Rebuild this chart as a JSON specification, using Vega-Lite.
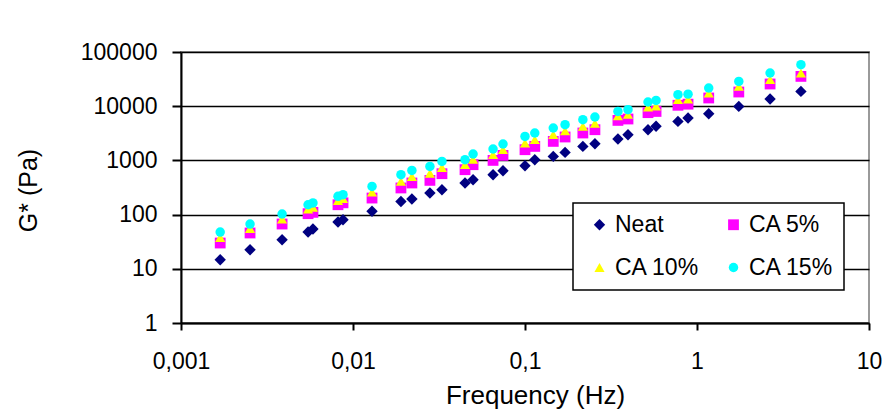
{
  "$schema": "https://vega.github.io/schema/vega-lite/v6.json",
  "width": 688,
  "height": 271,
  "autosize": "none",
  "padding": {"left": 181, "top": 52, "right": 24, "bottom": 94},
  "background": "white",
  "config": {
    "font": "Liberation Sans",
    "view": {"stroke": "#9a9a9a", "strokeWidth": 2},
    "legend": {"strokeWidth": 1.5},
    "axis": {"labelFont": "Liberation Sans", "titleFont": "Liberation Sans", "labelColor": "#000", "titleColor": "#000", "titleFontWeight": "normal", "domainColor": "#000", "domainWidth": 2, "tickColor": "#000", "tickWidth": 2, "gridColor": "#000", "gridWidth": 1.6, "gridOpacity": 1}
  },
  "data": {
    "values": [
      {"s":"Neat","f":0.00169,"g":14.7},{"s":"Neat","f":0.00252,"g":22.5},{"s":"Neat","f":0.00387,"g":34.4},{"s":"Neat","f":0.00548,"g":47.7},{"s":"Neat","f":0.00585,"g":54.2},{"s":"Neat","f":0.00818,"g":73},{"s":"Neat","f":0.00875,"g":80.5},{"s":"Neat","f":0.0129,"g":115},{"s":"Neat","f":0.019,"g":175},{"s":"Neat","f":0.022,"g":194},{"s":"Neat","f":0.028,"g":250},{"s":"Neat","f":0.0329,"g":288},{"s":"Neat","f":0.0448,"g":383},{"s":"Neat","f":0.0499,"g":440},{"s":"Neat","f":0.0652,"g":545},{"s":"Neat","f":0.0745,"g":646},{"s":"Neat","f":0.1,"g":798},{"s":"Neat","f":0.114,"g":1030},{"s":"Neat","f":0.146,"g":1185},{"s":"Neat","f":0.171,"g":1405},{"s":"Neat","f":0.217,"g":1812},{"s":"Neat","f":0.255,"g":2033},{"s":"Neat","f":0.347,"g":2483},{"s":"Neat","f":0.397,"g":2980},{"s":"Neat","f":0.519,"g":3683},{"s":"Neat","f":0.578,"g":4276},{"s":"Neat","f":0.775,"g":5244},{"s":"Neat","f":0.887,"g":6057},{"s":"Neat","f":1.17,"g":7273},{"s":"Neat","f":1.75,"g":9916},{"s":"Neat","f":2.66,"g":13580},{"s":"Neat","f":4.02,"g":18750},
      {"s":"CA 5%","f":0.00169,"g":29.9},{"s":"CA 5%","f":0.00252,"g":45.8},{"s":"CA 5%","f":0.00387,"g":67},{"s":"CA 5%","f":0.00548,"g":104},{"s":"CA 5%","f":0.00585,"g":110},{"s":"CA 5%","f":0.00818,"g":152},{"s":"CA 5%","f":0.00875,"g":165},{"s":"CA 5%","f":0.0129,"g":202},{"s":"CA 5%","f":0.019,"g":310},{"s":"CA 5%","f":0.022,"g":383},{"s":"CA 5%","f":0.028,"g":428},{"s":"CA 5%","f":0.0329,"g":568},{"s":"CA 5%","f":0.0448,"g":674},{"s":"CA 5%","f":0.0499,"g":833},{"s":"CA 5%","f":0.0652,"g":1000},{"s":"CA 5%","f":0.0745,"g":1237},{"s":"CA 5%","f":0.1,"g":1575},{"s":"CA 5%","f":0.114,"g":1812},{"s":"CA 5%","f":0.146,"g":2242},{"s":"CA 5%","f":0.171,"g":2703},{"s":"CA 5%","f":0.217,"g":3203},{"s":"CA 5%","f":0.255,"g":3683},{"s":"CA 5%","f":0.347,"g":5470},{"s":"CA 5%","f":0.397,"g":5805},{"s":"CA 5%","f":0.519,"g":7600},{"s":"CA 5%","f":0.578,"g":8000},{"s":"CA 5%","f":0.775,"g":10400},{"s":"CA 5%","f":0.887,"g":10900},{"s":"CA 5%","f":1.17,"g":14170},{"s":"CA 5%","f":1.75,"g":18270},{"s":"CA 5%","f":2.66,"g":25680},{"s":"CA 5%","f":4.02,"g":35480},
      {"s":"CA 10%","f":0.00169,"g":37.8},{"s":"CA 10%","f":0.00252,"g":55.4},{"s":"CA 10%","f":0.00387,"g":83},{"s":"CA 10%","f":0.00548,"g":126},{"s":"CA 10%","f":0.00585,"g":136},{"s":"CA 10%","f":0.00818,"g":181},{"s":"CA 10%","f":0.00875,"g":197},{"s":"CA 10%","f":0.0129,"g":259},{"s":"CA 10%","f":0.019,"g":410},{"s":"CA 10%","f":0.022,"g":500},{"s":"CA 10%","f":0.028,"g":576},{"s":"CA 10%","f":0.0329,"g":736},{"s":"CA 10%","f":0.0448,"g":833},{"s":"CA 10%","f":0.0499,"g":1043},{"s":"CA 10%","f":0.0652,"g":1274},{"s":"CA 10%","f":0.0745,"g":1575},{"s":"CA 10%","f":0.1,"g":2085},{"s":"CA 10%","f":0.114,"g":2410},{"s":"CA 10%","f":0.146,"g":2980},{"s":"CA 10%","f":0.171,"g":3500},{"s":"CA 10%","f":0.217,"g":4240},{"s":"CA 10%","f":0.255,"g":4816},{"s":"CA 10%","f":0.347,"g":6622},{"s":"CA 10%","f":0.397,"g":7060},{"s":"CA 10%","f":0.519,"g":9583},{"s":"CA 10%","f":0.578,"g":10000},{"s":"CA 10%","f":0.775,"g":13180},{"s":"CA 10%","f":0.887,"g":13500},{"s":"CA 10%","f":1.17,"g":17520},{"s":"CA 10%","f":1.75,"g":23190},{"s":"CA 10%","f":2.66,"g":30830},{"s":"CA 10%","f":4.02,"g":40980},
      {"s":"CA 15%","f":0.00169,"g":47.7},{"s":"CA 15%","f":0.00252,"g":67},{"s":"CA 15%","f":0.00387,"g":102.6},{"s":"CA 15%","f":0.00548,"g":152},{"s":"CA 15%","f":0.00585,"g":164},{"s":"CA 15%","f":0.00818,"g":217},{"s":"CA 15%","f":0.00875,"g":233},{"s":"CA 15%","f":0.0129,"g":331},{"s":"CA 15%","f":0.019,"g":545},{"s":"CA 15%","f":0.022,"g":654},{"s":"CA 15%","f":0.028,"g":775},{"s":"CA 15%","f":0.0329,"g":958},{"s":"CA 15%","f":0.0448,"g":1030},{"s":"CA 15%","f":0.0499,"g":1313},{"s":"CA 15%","f":0.0652,"g":1624},{"s":"CA 15%","f":0.0745,"g":2007},{"s":"CA 15%","f":0.1,"g":2772},{"s":"CA 15%","f":0.114,"g":3203},{"s":"CA 15%","f":0.146,"g":3962},{"s":"CA 15%","f":0.171,"g":4557},{"s":"CA 15%","f":0.217,"g":5636},{"s":"CA 15%","f":0.255,"g":6320},{"s":"CA 15%","f":0.347,"g":8017},{"s":"CA 15%","f":0.397,"g":8619},{"s":"CA 15%","f":0.519,"g":11955},{"s":"CA 15%","f":0.578,"g":12795},{"s":"CA 15%","f":0.775,"g":16300},{"s":"CA 15%","f":0.887,"g":16700},{"s":"CA 15%","f":1.17,"g":21670},{"s":"CA 15%","f":1.75,"g":28680},{"s":"CA 15%","f":2.66,"g":40980},{"s":"CA 15%","f":4.02,"g":58320}
    ]
  },
  "mark": {"type": "point", "filled": true, "opacity": 1},
  "encoding": {
    "x": {
      "field": "f", "type": "quantitative",
      "scale": {"type": "log", "domain": [0.001, 10], "nice": false},
      "axis": {"title": "Frequency (Hz)", "values": [0.001, 0.01, 0.1, 1, 10], "labelExpr": "replace(format(datum.value, '~g'), '.', ',')", "grid": false, "tickSize": 7, "labelPadding": 20, "labelFontSize": 23, "labelFlush": false, "titleFontSize": 26, "titleX": 354, "titleY": 72, "titleBaseline": "middle"}
    },
    "y": {
      "field": "g", "type": "quantitative",
      "scale": {"type": "log", "domain": [1, 100000], "nice": false},
      "axis": {"title": "G* (Pa)", "values": [1, 10, 100, 1000, 10000, 100000], "format": "d", "grid": true, "tickSize": 9, "labelPadding": 15, "labelFontSize": 23, "titleFontSize": 25, "titleX": -153, "titleY": 138, "titleAngle": -90, "titleBaseline": "middle"}
    },
    "color": {
      "field": "s", "type": "nominal",
      "scale": {"domain": ["Neat", "CA 5%", "CA 10%", "CA 15%"], "range": ["#000080", "#FF00FF", "#FFFF00", "#00FFFF"]},
      "legend": {"title": null, "orient": "none", "legendX": 392, "legendY": 151, "direction": "horizontal", "columns": 2, "fillColor": "white", "strokeColor": "#000", "padding": 10, "symbolOffset": 5, "labelFontSize": 23, "labelColor": "#000", "labelFont": "Liberation Sans", "labelOffset": 4, "columnPadding": 17, "rowPadding": 19, "symbolSize": 110, "symbolStrokeWidth": 0}
    },
    "shape": {
      "field": "s", "type": "nominal",
      "scale": {"domain": ["Neat", "CA 5%", "CA 10%", "CA 15%"], "range": ["diamond", "square", "triangle-up", "circle"]}
    },
    "size": {
      "field": "s", "type": "nominal",
      "scale": {"domain": ["Neat", "CA 5%", "CA 10%", "CA 15%"], "range": [130, 90, 100, 100]},
      "legend": null
    }
  }
}
